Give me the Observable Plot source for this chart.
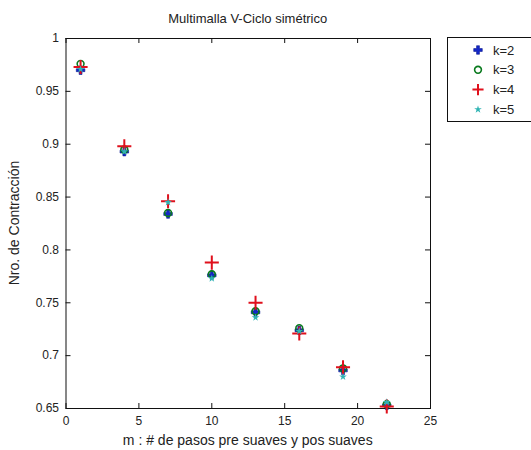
<!DOCTYPE html>
<html>
<head>
<meta charset="utf-8">
<script src="https://cdn.jsdelivr.net/npm/d3@7"></script>
<script src="https://cdn.jsdelivr.net/npm/@observablehq/plot@0.6"></script>
<style>
  html, body { margin: 0; padding: 0; background: #fff; }
  #chart svg { display: block; }
</style>
</head>
<body>
<div id="chart"></div>
<script>
const titleText = "Multimalla V-Ciclo simétrico";
const xLabel = "m : # de pasos pre suaves y pos suaves";
const yLabel = "Nro. de Contracción";
const mSteps = [1, 4, 7, 10, 13, 16, 19, 22];
const k2 = [0.970, 0.893, 0.834, 0.776, 0.741, 0.724, 0.686, 0.653];
const k3 = [0.976, 0.895, 0.835, 0.777, 0.742, 0.726, 0.688, 0.654];
const k4 = [0.973, 0.898, 0.846, 0.788, 0.750, 0.721, 0.689, 0.652];
const k5 = [0.971, 0.893, 0.845, 0.773, 0.736, 0.723, 0.680, 0.656];
const seriesNames = ["k=2", "k=3", "k=4", "k=5"];
const xTicks = [0, 5, 10, 15, 20, 25];
const yTicks = [0.65, 0.7, 0.75, 0.8, 0.85, 0.9, 0.95, 1];

const W = 531, H = 450;
const mL = 65.5, mR = 101, mT = 38, mB = 42;
const innerH = H - mT - mB;
const tickLen = 5;

const toRows = (vals) => mSteps.map((m, i) => ({m, v: vals[i]}));

const styles = [
  {symbol: "cross", fill: "#1428c8", stroke: "#0a1a90", strokeWidth: 0.6, r: 3.6},
  {symbol: "circle", fill: "none", stroke: "#0a7a1e", strokeWidth: 1.6, r: 3.4},
  {symbol: "plus", fill: "none", stroke: "#e0101c", strokeWidth: 2, r: 4.6},
  {symbol: "star", fill: "#30b4b4", stroke: "none", r: 2.4}
];
const seriesData = [k2, k3, k4, k5];

const plot = Plot.plot({
  width: W,
  height: H,
  marginLeft: mL,
  marginRight: mR,
  marginTop: mT,
  marginBottom: mB,
  style: {fontFamily: "Liberation Sans, Arial, sans-serif", fontSize: "12px", color: "#222", background: "#fff"},
  x: {domain: [0, 25], ticks: xTicks, label: null},
  y: {domain: [0.65, 1], ticks: yTicks, label: null},
  marks: [
    Plot.frame({stroke: "#111", strokeWidth: 1}),
    Plot.axisX({ticks: xTicks, tickSize: 0, tickPadding: 8, tickFormat: d => String(d), label: null, fontSize: 12}),
    Plot.axisY({ticks: yTicks, tickSize: 0, tickPadding: 7, tickFormat: d => String(+d.toFixed(2)), label: null, fontSize: 12}),
    Plot.tickX(xTicks, {x: d => d, stroke: "#111", insetTop: innerH - tickLen}),
    Plot.tickX(xTicks, {x: d => d, stroke: "#111", insetBottom: innerH - tickLen}),
    Plot.tickY(yTicks, {y: d => d, stroke: "#111", insetRight: (W - mL - mR) - tickLen}),
    Plot.tickY(yTicks, {y: d => d, stroke: "#111", insetLeft: (W - mL - mR) - tickLen}),
    ...seriesData.map((vals, i) => Plot.dot(toRows(vals), {x: "m", y: "v", ...styles[i]}))
  ]
});

const svg = d3.select(plot);
// Title
svg.append("text")
  .attr("x", mL + (W - mL - mR) / 2).attr("y", 23)
  .attr("text-anchor", "middle")
  .attr("font-size", 13).attr("fill", "#222")
  .text(titleText);
// X label
svg.append("text")
  .attr("x", mL + (W - mL - mR) / 2).attr("y", 445)
  .attr("text-anchor", "middle")
  .attr("font-size", 14).attr("fill", "#222")
  .text(xLabel);
// Y label
svg.append("text")
  .attr("transform", `translate(19,${mT + innerH / 2}) rotate(-90)`)
  .attr("text-anchor", "middle")
  .attr("font-size", 14).attr("fill", "#222")
  .text(yLabel);

// Legend
const lg = svg.append("g");
lg.append("rect").attr("x", 447.5).attr("y", 37.5).attr("width", 100).attr("height", 84)
  .attr("fill", "#fff").attr("stroke", "#111");
const sym = {cross: d3.symbolCross, circle: d3.symbolCircle, plus: d3.symbolPlus, star: d3.symbolStar};
seriesNames.forEach((name, i) => {
  const cy = 50 + i * 19.8;
  const s = styles[i];
  const area = s.symbol === "plus" ? (s.r * 2) ** 2 * 0.5 : Math.PI * s.r * s.r;
  lg.append("path")
    .attr("transform", `translate(478,${cy})`)
    .attr("d", d3.symbol(sym[s.symbol], area)())
    .attr("fill", s.fill).attr("stroke", s.stroke)
    .attr("stroke-width", s.strokeWidth || 0);
  lg.append("text").attr("x", 493).attr("y", cy).attr("dy", "0.35em")
    .attr("text-anchor", "start")
    .attr("font-size", 13).attr("fill", "#222").text(name);
});

document.getElementById("chart").appendChild(plot);
</script>
</body>
</html>
